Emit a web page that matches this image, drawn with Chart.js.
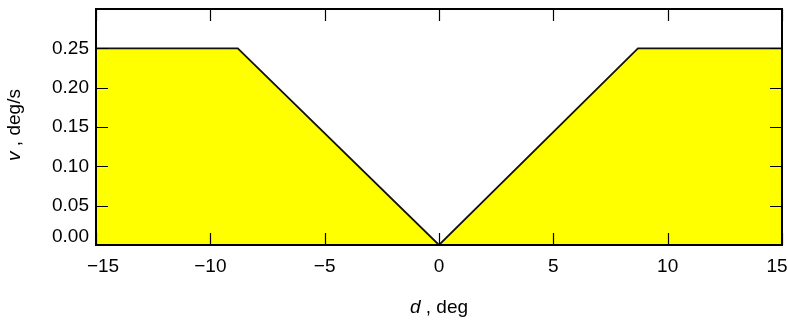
<!DOCTYPE html>
<html>
<head>
<meta charset="utf-8">
<script src="https://cdn.jsdelivr.net/npm/chart.js@4.4.1/dist/chart.umd.min.js"></script>
<style>
  html, body { margin: 0; padding: 0; background: #fff; }
  #wrap { width: 788px; height: 320px; }
</style>
</head>
<body>
<div id="wrap"><canvas id="c" width="788" height="320"></canvas></div>
<script>
// Drift speed v as a function of target offset d
const offsetDeg = [-15, -8.8, 0, 8.7, 15];
const speedDegPerSec = [0.25, 0.25, 0, 0.25, 0.25];

const xTicks = [-15, -10, -5, 0, 5, 10, 15];
const yTicks = [0, 0.05, 0.10, 0.15, 0.20, 0.25, 0.30];
const yTickLabelMax = 0.25;

const FONT = "'Liberation Sans', Arial, Helvetica, sans-serif";
const FONT_SIZE = 19;
const TICK_LEN = 12;

const points = offsetDeg.map((d, i) => ({ x: d, y: speedDegPerSec[i] }));

const fmtX = v => String(v).replace('-', '\u2212');
const fmtY = v => Number(v).toFixed(2);

// Frame, inward tick marks on all four sides, tick labels and axis titles
const framePlugin = {
  id: 'frame',
  afterDraw(chart) {
    const { ctx, chartArea: a, scales } = chart;
    ctx.save();
    ctx.strokeStyle = '#000';
    ctx.lineWidth = 1.2;
    ctx.beginPath();
    xTicks.forEach(v => {
      const px = Math.round(scales.x.getPixelForValue(v)) + 0.5;
      ctx.moveTo(px, a.bottom); ctx.lineTo(px, a.bottom - TICK_LEN);
      ctx.moveTo(px, a.top); ctx.lineTo(px, a.top + TICK_LEN);
    });
    yTicks.forEach(v => {
      const py = Math.round(scales.y.getPixelForValue(v)) + 0.5;
      ctx.moveTo(a.left, py); ctx.lineTo(a.left + TICK_LEN, py);
      ctx.moveTo(a.right, py); ctx.lineTo(a.right - TICK_LEN, py);
    });
    ctx.stroke();

    ctx.lineWidth = 2;
    ctx.strokeRect(a.left, a.top, a.right - a.left, a.bottom - a.top);

    ctx.fillStyle = '#000';
    ctx.font = FONT_SIZE + 'px ' + FONT;

    // x tick labels; the outermost ones are nudged inside the canvas
    ctx.textAlign = 'center';
    ctx.textBaseline = 'middle';
    xTicks.forEach((v, i) => {
      let px = scales.x.getPixelForValue(v);
      if (i === 0) px += 7;
      if (i === xTicks.length - 1) px -= 5;
      ctx.fillText(fmtX(v), px, a.bottom + 22);
    });

    // y tick labels; the bottom one sits just above the x axis
    ctx.textAlign = 'right';
    yTicks.forEach((v, i) => {
      if (v > yTickLabelMax + 1e-9) return;
      let py = scales.y.getPixelForValue(v);
      if (i === 0) py -= 8;
      ctx.fillText(fmtY(v), a.left - 7, py);
    });

    // axis titles: italic symbol followed by upright unit
    const drawTitle = (sym, rest) => {
      ctx.font = 'italic ' + FONT_SIZE + 'px ' + FONT;
      const w1 = ctx.measureText(sym).width;
      ctx.font = FONT_SIZE + 'px ' + FONT;
      const w2 = ctx.measureText(rest).width;
      const x0 = -(w1 + w2) / 2;
      ctx.textBaseline = 'middle';
      ctx.textAlign = 'left';
      ctx.font = 'italic ' + FONT_SIZE + 'px ' + FONT;
      ctx.fillText(sym, x0, 0);
      ctx.font = FONT_SIZE + 'px ' + FONT;
      ctx.fillText(rest, x0 + w1, 0);
    };
    ctx.save();
    ctx.translate((a.left + a.right) / 2, 308);
    drawTitle('d', ' , deg');
    ctx.restore();
    ctx.save();
    ctx.translate(15, (a.top + a.bottom) / 2 - 2);
    ctx.rotate(-Math.PI / 2);
    drawTitle('v', ' , deg/s');
    ctx.restore();
    ctx.restore();
  }
};

new Chart(document.getElementById('c'), {
  type: 'line',
  data: {
    datasets: [{
      data: points,
      borderColor: '#111',
      borderWidth: 1.8,
      backgroundColor: '#ffff00',
      fill: 'origin',
      pointRadius: 0,
      tension: 0
    }]
  },
  options: {
    responsive: false,
    animation: false,
    devicePixelRatio: 1,
    layout: { padding: { left: 0, top: 9, right: 6, bottom: 0 } },
    plugins: { legend: { display: false }, tooltip: { enabled: false } },
    scales: {
      x: {
        type: 'linear',
        min: -15, max: 15,
        grid: { display: false, drawTicks: false },
        border: { display: false },
        afterBuildTicks: s => { s.ticks = xTicks.map(v => ({ value: v })); },
        afterFit: s => { s.height = 75; s.paddingLeft = 0; s.paddingRight = 0; },
        ticks: { display: false }
      },
      y: {
        type: 'linear',
        min: 0, max: 0.3,
        grid: { display: false, drawTicks: false },
        border: { display: false },
        afterBuildTicks: s => { s.ticks = yTicks.map(v => ({ value: v })); },
        afterFit: s => { s.width = 96; s.paddingTop = 0; s.paddingBottom = 0; },
        ticks: { display: false }
      }
    }
  },
  plugins: [framePlugin]
});
</script>
</body>
</html>
